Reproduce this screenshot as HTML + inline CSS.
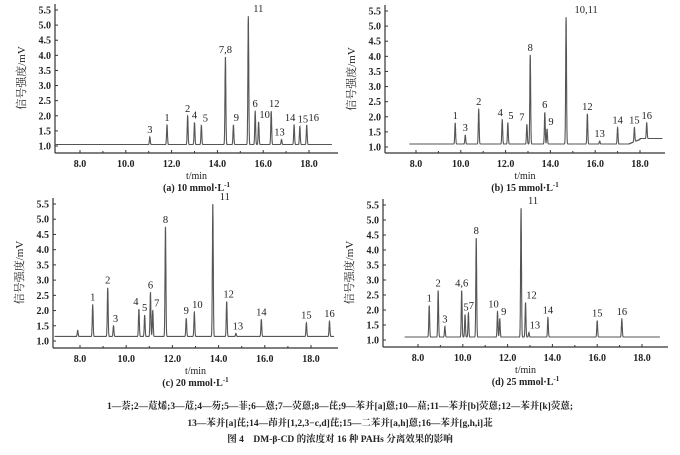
<!DOCTYPE html>
<html><head><meta charset="utf-8"><style>
html,body{margin:0;padding:0;background:#fff;}
svg{display:block}
text{font-family:"Liberation Serif","Noto Serif CJK SC",serif;fill:#222}
</style></head><body>
<svg id="s" width="680" height="455" xmlns="http://www.w3.org/2000/svg">
<text x="340" y="409" font-size="9.5" text-anchor="middle" font-weight="bold">1—萘;2—苊烯;3—苊;4—芴;5—菲;6—蒽;7—荧蒽;8—芘;9—苯并[a]蒽;10—䓛;11—苯并[b]荧蒽;12—苯并[k]荧蒽;</text>
<text x="340" y="426" font-size="9.5" text-anchor="middle" font-weight="bold">13—苯并[a]芘;14—茚并[1,2,3−c,d]芘;15—二苯并[a,h]蒽;16—苯并[g,h,i]苝</text>
<text x="340" y="442" font-size="9.5" text-anchor="middle" font-weight="bold">图 4　DM-β-CD 的浓度对 16 种 PAHs 分离效果的影响</text>
</svg>
<script>
var S=document.getElementById('s'),NS='http://www.w3.org/2000/svg';
function el(t,a,txt){var e=document.createElementNS(NS,t);for(var k in a)e.setAttribute(k,a[k]);if(txt!=null)e.textContent=txt;S.appendChild(e);return e;}
var P=[
{L:55,B:153,y1:146,y55:10,x8:80,x18:309,R:338,cap:"(a) 10 mmol·L",base:function(t){return 1.05},
pk:[[11.05,1.3,"3"],[11.8,1.7,"1"],[12.7,2.0,"2"],[13.0,1.78,"4"],[13.3,1.68,"5",4],[14.35,3.95,"7,8"],[14.7,1.7,"9",3],[15.35,5.3,"11",10],[15.65,2.15,"6"],[15.8,1.8,"10",6],[16.35,2.15,"12",3],[16.8,1.22,"13",-2],[17.35,1.7,"14",-4],[17.6,1.65,"15",3],[17.9,1.7,"16",7]],t0:6.9,t1:19},
{L:385,B:153,y1:147,y55:11,x8:416,x18:640,R:665,cap:"(b) 15 mmol·L",base:function(t){return t<17.5?1.1:(t<18?1.1+(t-17.5)*0.3:1.28)},
pk:[[9.75,1.8,"1"],[10.2,1.4,"3"],[10.8,2.25,"2"],[11.85,1.9,"4",-2],[12.1,1.8,"5",3],[12.95,1.75,"7",-5],[13.1,4.05,"8"],[13.75,2.15,"6"],[13.85,1.6,"9",4],[14.7,5.3,"10,11",20],[15.65,2.1,"12"],[16.2,1.2,"13"],[17.0,1.65,"14"],[17.75,1.65,"15"],[18.3,1.8,"16"]],t0:7.7,t1:19},
{L:53,B:348,y1:341,y55:204,x8:80,x18:311,R:338,cap:"(c) 20 mmol·L",base:function(t){return 1.15},
pk:[[7.9,1.35,""],[8.55,2.2,"1"],[9.2,2.75,"2"],[9.45,1.5,"3",2],[10.55,2.05,"4",-3],[10.8,1.85,"5"],[11.05,2.6,"6"],[11.15,2.0,"7",4],[11.7,4.75,"8"],[12.6,1.75,"9"],[12.95,1.95,"10",3],[13.75,5.5,"11",12],[14.35,2.3,"12",2],[14.75,1.25,"13",2],[15.85,1.7,"14"],[17.8,1.6,"15"],[18.8,1.65,"16"]],t0:6.9,t1:19},
{L:383,B:347,y1:340,y55:205,x8:418,x18:642,R:668,cap:"(d) 25 mmol·L",base:function(t){return 1.1},
pk:[[8.5,2.15,"1"],[8.9,2.65,"2"],[9.2,1.45,"3"],[9.95,2.65,"4,6"],[10.1,1.85,"5",1],[10.25,1.9,"7",3],[10.6,4.4,"8"],[11.55,1.95,"10",-4],[11.65,1.7,"9",4],[12.6,5.4,"11",12],[12.8,2.25,"12",6],[12.95,1.25,"13",6],[13.8,1.75,"14"],[16.0,1.65,"15"],[17.1,1.7,"16"]],t0:7.4,t1:18.8}
];
P.forEach(function(p){
 var sx=(p.x18-p.x8)/10, sy=(p.y1-p.y55)/4.5;
 function X(t){return p.x8+(t-8)*sx} function Y(v){return p.y1-(v-1)*sy}
 el('line',{x1:p.L,y1:p.y55-6,x2:p.L,y2:p.B,stroke:'#333','stroke-width':1.2});
 el('line',{x1:p.L,y1:p.B,x2:p.R,y2:p.B,stroke:'#333','stroke-width':1.2});
 for(var i=0;i<10;i++){var v=1+i*0.5,y=Y(v);el('line',{x1:p.L,y1:y,x2:p.L+3,y2:y,stroke:'#333'});
  el('text',{x:p.L-4,y:y+3.5,'font-size':10,'text-anchor':'end','font-weight':'bold'},v.toFixed(1));}
 for(var t=8;t<=18;t+=2){var x=X(t);el('line',{x1:x,y1:p.B,x2:x,y2:p.B-3,stroke:'#333'});
  el('text',{x:x,y:p.B+14,'font-size':10,'text-anchor':'middle','font-weight':'bold'},t.toFixed(1));}
 for(var t=9;t<=18;t+=2){var x=X(t);el('line',{x1:x,y1:p.B,x2:x,y2:p.B-2,stroke:'#333'});}
 var mx=(p.L+p.R)/2;
 el('text',{x:mx,y:p.B+26,'font-size':10,'text-anchor':'middle'},'t/min');
 var c=el('text',{x:mx,y:p.B+38,'font-size':10,'text-anchor':'middle','font-weight':'bold'},p.cap);
 var ts=document.createElementNS(NS,'tspan');ts.setAttribute('dy','-4');ts.setAttribute('font-size','7');ts.textContent='-1';c.appendChild(ts);
 el('text',{x:0,y:0,'font-size':11,'text-anchor':'middle',fill:'#555',transform:'translate('+(p.L-30)+','+((p.y1+p.y55)/2)+') rotate(-90)'},'信号强度/mV');
 var d='',w=0.019;
 for(var t=p.t0;t<=p.t1;t+=0.003){var v=p.base(t);p.pk.forEach(function(k){var z=(t-k[0])/w;v+=(k[1]-p.base(k[0]))*Math.exp(-z*z/2);});
  d+=(d?'L':'M')+X(t).toFixed(1)+' '+Y(v).toFixed(1);}
 el('path',{d:d,fill:'none',stroke:'#555','stroke-width':1.1});
 p.pk.forEach(function(k){if(!k[2])return;el('text',{x:X(k[0])+(k[3]||0),y:Y(k[1])-4,'font-size':10.5,'text-anchor':'middle'},k[2]);});
});
</script>
</body></html>
